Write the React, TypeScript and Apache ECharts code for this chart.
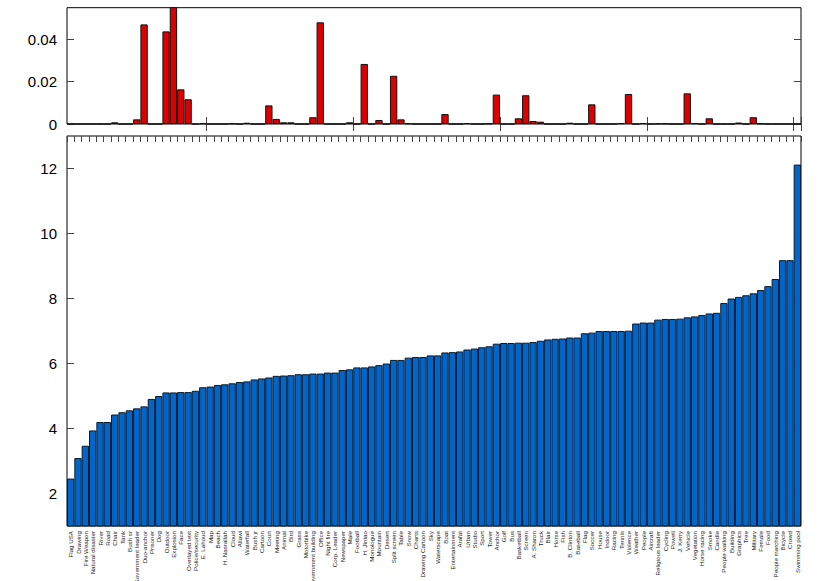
import React, { useEffect, useRef } from 'react';
import * as echarts from 'echarts';

const categories: string[] = [
  'Flag USA', 'Drawing', 'Fire Weapon', 'Natural disaster', 'River', 'Road', 'Chair', 'Tank', 'Bush sr', 'Government leader',
  'Duo-anchor', 'Prisoner', 'Dog', 'Outdoor', 'Explosion', 'Face', 'Overlayed text', 'Police/security', 'E. Lahoud', 'Map',
  'Beach', 'H. Nasrallah', 'Cloud', 'Allawi', 'Waterfall', 'Bush jr', 'Cartoon', 'Court', 'Meeting', 'Animal',
  'Bird', 'Grass', 'Motorbike', 'Government building', 'Office', 'Night fire', 'Corp. Leader', 'Newspaper', 'Male', 'Football',
  'H. Jintao', 'Monologue', 'Mountain', 'Desert', 'Split screen', 'Table', 'Snow', 'Charts', 'Drawing Cartoon', 'Sky',
  'Waterscape', 'Boat', 'Entertainment', 'Arafat', 'Urban', 'Studio', 'Sport', 'Tower', 'Anchor', 'Golf',
  'Bus', 'Basketball', 'Screen', 'A. Sharon', 'Truck', 'Blair', 'Horse', 'Fish', 'B. Clinton', 'Baseball',
  'Flag', 'Soccer', 'House', 'Indoor', 'Racing', 'Tennis', 'Violence', 'Weather', 'People', 'Aircraft',
  'Religious leader', 'Cycling', 'Powell', 'J. Kerry', 'Vehicle', 'Vegetation', 'Horse racing', 'Smoke', 'Candle', 'People walking',
  'Building', 'Graphics', 'Tree', 'Military', 'Female', 'Food', 'People marching', 'Bicycle', 'Crowd', 'Swimming pool',
];

// upper panel values
const weights: number[] = [
  0, 0, 0, 0, 0, 0, 0.0008, 0, 0, 0.0022,
  0.0471, 0, 0, 0.0438, 0.057, 0.0164, 0.0117, 0, 0.0003, 0,
  0, 0, 0.0003, 0, 0.0006, 0, 0, 0.0088, 0.0024, 0.0008,
  0.0008, 0, 0, 0.0032, 0.0481, 0, 0, 0, 0.0008, 0,
  0.0284, 0, 0.0019, 0, 0.0228, 0.0022, 0.0003, 0, 0, 0,
  0, 0.0047, 0, 0, 0.0004, 0, 0, 0.0002, 0.0139, 0,
  0, 0.0027, 0.0136, 0.0014, 0.0011, 0, 0, 0, 0.0006, 0,
  0, 0.0093, 0, 0, 0, 0.0004, 0.0142, 0, 0.0004, 0,
  0.0002, 0.0002, 0, 0, 0.0145, 0.0004, 0, 0.0027, 0, 0,
  0, 0.0007, 0, 0.0032, 0.0002, 0, 0, 0, 0, 0,
];

// lower panel values
const scores: number[] = [
  2.46, 3.09, 3.47, 3.94, 4.2, 4.2, 4.43, 4.5, 4.56, 4.62,
  4.68, 4.91, 5.0, 5.11, 5.11, 5.12, 5.12, 5.16, 5.27, 5.29,
  5.34, 5.36, 5.39, 5.43, 5.45, 5.51, 5.54, 5.57, 5.62, 5.63,
  5.64, 5.67, 5.67, 5.69, 5.69, 5.72, 5.72, 5.8, 5.82, 5.88,
  5.88, 5.91, 5.95, 6.0, 6.11, 6.11, 6.18, 6.2, 6.2, 6.25,
  6.25, 6.34, 6.35, 6.37, 6.43, 6.46, 6.5, 6.53, 6.61, 6.63,
  6.63, 6.64, 6.64, 6.66, 6.7, 6.74, 6.76, 6.77, 6.8, 6.8,
  6.93, 6.95, 7.0, 7.0, 7.0, 7.0, 7.01, 7.23, 7.26, 7.26,
  7.35, 7.37, 7.37, 7.38, 7.42, 7.45, 7.49, 7.54, 7.56, 7.86,
  8.0, 8.05, 8.1, 8.16, 8.26, 8.38, 8.6, 9.18, 9.18, 12.12,
];

const topTicks: number[] = [0, 0.02, 0.04];
const bottomTicks: number[] = [2, 4, 6, 8, 10, 12];

const FONT = "'Liberation Sans', Arial, Helvetica, sans-serif";

export default function App() {
  const ref = useRef<HTMLDivElement>(null);

  useEffect(() => {
    if (!ref.current) return;
    const chart = echarts.init(ref.current, undefined, { renderer: 'svg' });
    const tickStyle = { color: '#444', width: 1 };
    const topTickFn = (i: number) => i % 20 === 19;
    const option: any = {
      animation: false,
      textStyle: { fontFamily: FONT },
      grid: [
        { left: 67, top: 7.7, width: 734, height: 116.3, show: true, borderColor: '#000', borderWidth: 1, backgroundColor: 'transparent', containLabel: false, outerBoundsMode: 'none' },
        { left: 67, top: 136, width: 734, height: 390, show: true, borderColor: '#000', borderWidth: 1, backgroundColor: 'transparent', containLabel: false, outerBoundsMode: 'none' },
      ],
      xAxis: [
        {
          gridIndex: 0, type: 'category', data: categories, position: 'bottom',
          axisLine: { show: false },
          axisTick: { show: true, inside: true, length: 7, interval: topTickFn, lineStyle: tickStyle },
          axisLabel: { show: false }, splitLine: { show: false },
        },
        {
          gridIndex: 0, type: 'category', data: categories, position: 'top',
          axisLine: { show: false },
          axisTick: { show: true, inside: true, length: 7, interval: topTickFn, lineStyle: tickStyle },
          axisLabel: { show: false }, splitLine: { show: false },
        },
        {
          gridIndex: 1, type: 'category', data: categories, position: 'bottom',
          axisLine: { show: false },
          axisTick: { show: false },
          axisLabel: { interval: 0, rotate: 90, fontSize: 6.2, color: '#222', margin: 5, fontFamily: FONT },
          splitLine: { show: false },
        },
        {
          gridIndex: 1, type: 'category', data: categories, position: 'top',
          axisLine: { show: false },
          axisTick: { show: true, inside: true, length: 6, interval: 0, lineStyle: tickStyle },
          axisLabel: { show: false }, splitLine: { show: false },
        },
      ],
      yAxis: [
        {
          gridIndex: 0, type: 'value', position: 'left', min: 0, max: 0.055,
          axisLine: { show: false }, splitLine: { show: false },
          axisTick: { show: true, inside: true, length: 7, lineStyle: tickStyle, customValues: topTicks },
          axisLabel: {
            fontSize: 15, color: '#000', margin: 10, fontFamily: FONT,
            customValues: topTicks,
            formatter: (v: number) => (v === 0 ? '0' : v.toFixed(2)),
          },
        },
        {
          gridIndex: 0, type: 'value', position: 'right', min: 0, max: 0.055,
          axisLine: { show: false }, splitLine: { show: false },
          axisTick: { show: true, inside: true, length: 7, lineStyle: tickStyle, customValues: topTicks },
          axisLabel: { show: false },
        },
        {
          gridIndex: 1, type: 'value', position: 'left', min: 1, max: 13,
          axisLine: { show: false }, splitLine: { show: false },
          axisTick: { show: true, inside: true, length: 7, lineStyle: tickStyle, customValues: bottomTicks },
          axisLabel: {
            fontSize: 15, color: '#000', margin: 10, fontFamily: FONT,
            customValues: bottomTicks,
          },
        },
        {
          gridIndex: 1, type: 'value', position: 'right', min: 1, max: 13,
          axisLine: { show: false }, splitLine: { show: false },
          axisTick: { show: true, inside: true, length: 7, lineStyle: tickStyle, customValues: bottomTicks },
          axisLabel: { show: false },
        },
      ],
      series: [
        {
          type: 'bar', xAxisIndex: 0, yAxisIndex: 0, data: weights,
          barCategoryGap: '0%',
          itemStyle: { color: '#dd0000', borderColor: '#111', borderWidth: 1 },
        },
        {
          type: 'bar', xAxisIndex: 2, yAxisIndex: 2, data: scores,
          barCategoryGap: '0%',
          itemStyle: { color: '#0066cc', borderColor: '#0b1a2a', borderWidth: 1 },
        },
      ],
    };
    chart.setOption(option);
    return () => chart.dispose();
  }, []);

  return (
    <div
      ref={ref}
      style={{ position: 'absolute', left: 0, top: 0, width: 830, height: 581, background: '#fff' }}
    />
  );
}
